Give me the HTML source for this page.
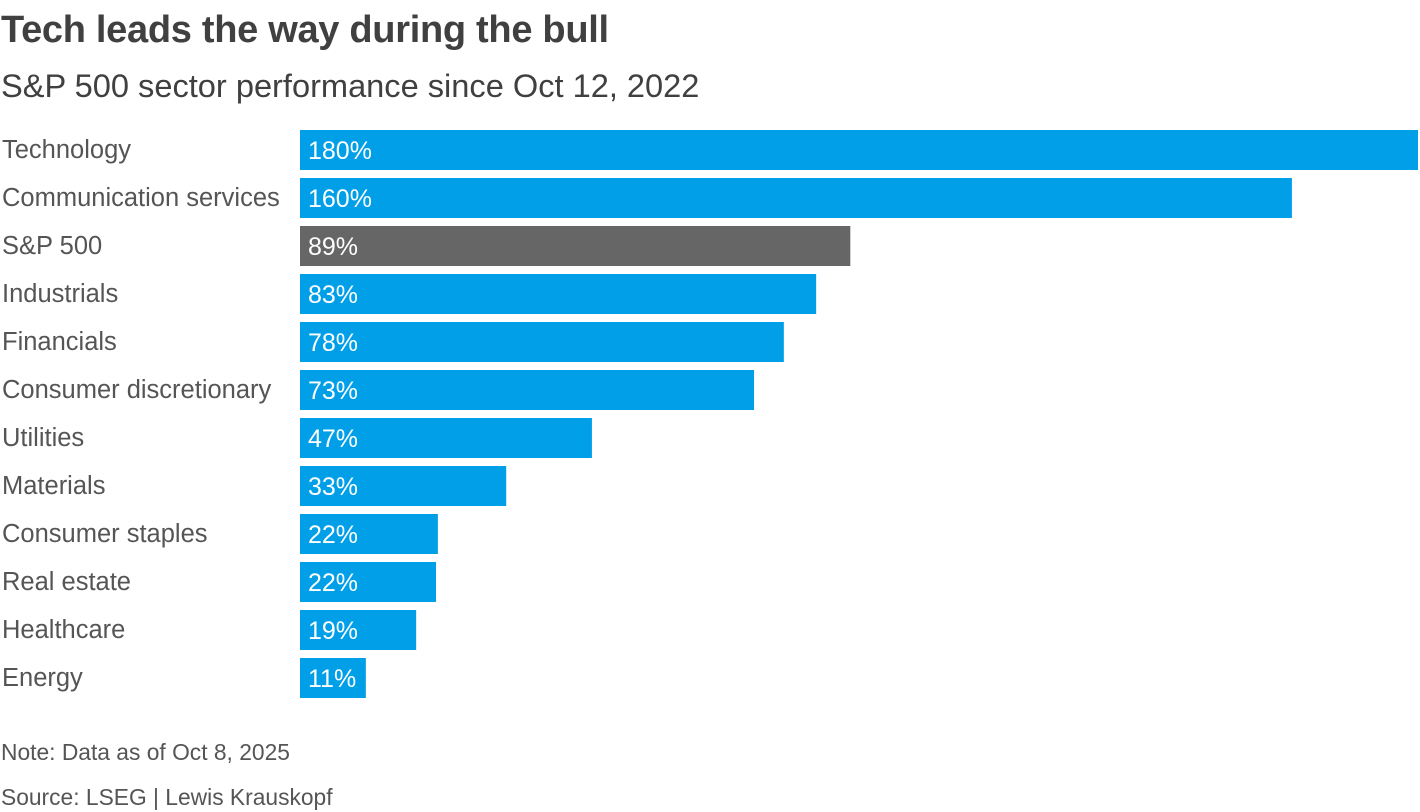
<!DOCTYPE html>
<html><head><meta charset="utf-8">
<style>
body{margin:0;width:1420px;height:812px;background:#fff;font-family:"Liberation Sans",sans-serif;color:#404040;overflow:hidden;position:relative}
.t{position:absolute;left:1px;white-space:nowrap}
</style></head><body>
<div class="t" style="top:9px;font-size:38px;font-weight:bold;color:#404040;letter-spacing:-0.3px">Tech leads the way during the bull</div>
<div class="t" style="top:67px;font-size:32.6px;color:#404040">S&amp;P 500 sector performance since Oct 12, 2022</div>
<svg id="chart" width="1420" height="720" style="position:absolute;left:0;top:0"></svg>
<div class="t" style="top:739px;font-size:22.8px;color:#555">Note: Data as of Oct 8, 2025</div>
<div class="t" style="top:784px;font-size:22.8px;color:#555">Source: LSEG | Lewis Krauskopf</div>
<script>
const categories=["Technology","Communication services","S&P 500","Industrials","Financials","Consumer discretionary","Utilities","Materials","Consumer staples","Real estate","Healthcare","Energy"];
const values=[180,159.7,88.6,83.1,77.9,73.1,47.0,33.2,22.2,21.9,18.7,10.6];
const highlight=["S&P 500"];
const svg=document.getElementById('chart');
const NS='http://www.w3.org/2000/svg';
const x0=300, xMax=180, wMax=1118, top0=130, step=48, bh=40;
const xs=v=>v/xMax*wMax;
const ys=i=>top0+i*step;
categories.forEach((c,i)=>{
  const y=ys(i);
  const t=document.createElementNS(NS,'text');
  
  
  t.setAttribute('x',2);t.setAttribute('y',y+28);
  t.setAttribute('font-size','25.5');t.setAttribute('fill','#555');
  t.setAttribute('font-family','Liberation Sans, sans-serif');
  t.textContent=c;svg.appendChild(t);
  const r=document.createElementNS(NS,'rect');
  
  
  r.setAttribute('x',x0);r.setAttribute('y',y);
  r.setAttribute('width',xs(values[i]));r.setAttribute('height',bh);
  r.setAttribute('fill',highlight.includes(c)?'#666666':'#009fe8');
  svg.appendChild(r);
  const v=document.createElementNS(NS,'text');
  
  
  v.setAttribute('x',x0+8);v.setAttribute('y',y+29);
  v.setAttribute('font-size','25');v.setAttribute('fill','#fff');
  v.setAttribute('font-family','Liberation Sans, sans-serif');
  v.textContent=Math.round(values[i])+'%';svg.appendChild(v);
});
</script>
</body></html>
